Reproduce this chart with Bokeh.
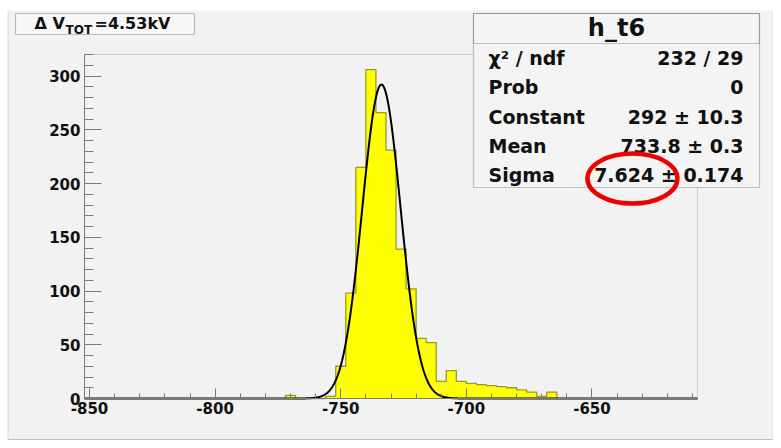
import numpy as np
from bokeh.plotting import figure
from bokeh.models import (Range1d, SingleIntervalTicker, BoxAnnotation, Label,
                          CustomJSTickFormatter)
from bokeh.embed import file_html
from bokeh.resources import INLINE

# ---------------- data ----------------
bin_width = 4
bin_lefts = [-772, -768, -764, -760, -756, -752, -748, -744, -740, -736,
             -732, -728, -724, -720, -716, -712, -708, -704, -700, -696,
             -692, -688, -684, -680, -676, -672, -668]
counts = [3, 0, 0, 0, 2, 30, 98, 215, 306, 266,
          231, 139, 102, 56, 52, 16, 26, 16, 14, 13,
          12, 11, 10, 8, 6, 2, 6]
x_start, x_end = -852, -608
y_start, y_end = 0, 320
tick_interval = 50

fit_constant = 292.0
fit_mean = -733.8
fit_sigma = 7.624

hist_name = "h_t6"
title_parts = ["Δ V", "TOT", "=4.53kV"]
stat_names = ["χ² / ndf", "Prob", "Constant", "Mean", "Sigma"]
stat_values = ["232 / 29", "0", "292 ± 10.3", "733.8 ± 0.3", "7.624 ± 0.174"]

# ---------------- layout (pixels) ----------------
W, H = 766, 430                 # canvas (page offset 7, 10)
OX, OY = 7, 10
PAD_L, PAD_R, PAD_T, PAD_B = 77, 76, 44, 42   # histogram frame inside canvas
BG = "#f2f2f2"
FONT = "DejaVu Sans"
AXC = "#7a7a7a"

kx = (x_end - x_start) / (W - PAD_L - PAD_R)
ky = (y_end - y_start) / (H - PAD_T - PAD_B)
vx0, vx1 = x_start - PAD_L * kx, x_end + PAD_R * kx
vy0, vy1 = y_start - PAD_B * ky, y_end + PAD_T * ky

p = figure(width=W, height=H,
           x_range=Range1d(vx0, vx1), y_range=Range1d(vy0, vy1),
           output_backend="svg", toolbar_location=None,
           min_border=0, min_border_left=0, min_border_right=0,
           min_border_top=0, min_border_bottom=0,
           background_fill_color=BG, border_fill_color=BG)
p.margin = (OY, 781 - W - OX, 448 - H - OY, OX)
p.title.visible = False
p.grid.visible = False
p.outline_line_color = None

fmt = CustomJSTickFormatter(code="return tick.toFixed(0)")
p.xaxis.fixed_location = y_start
p.xaxis.bounds = (x_start, x_end)
p.yaxis.fixed_location = x_start
p.yaxis.bounds = (y_start, y_end)
for ax, tin, tmin in ((p.xaxis[0], 10, 5), (p.yaxis[0], 17, 9)):
    ax.ticker = SingleIntervalTicker(interval=tick_interval, num_minor_ticks=5)
    ax.formatter = fmt
    ax.major_tick_in = tin
    ax.major_tick_out = 0
    ax.minor_tick_in = tmin
    ax.minor_tick_out = 0
    ax.axis_line_color = AXC
    ax.major_tick_line_color = AXC
    ax.minor_tick_line_color = AXC
    ax.major_label_text_font = FONT
    ax.major_label_text_font_style = "bold"
    ax.major_label_text_font_size = "15px"
    ax.major_label_text_color = "#111111"
p.xaxis.major_label_standoff = 3
p.yaxis.major_label_standoff = 4

# frame box of the histogram
p.add_layout(BoxAnnotation(left=x_start, right=x_end, bottom=y_start, top=y_end,
                           fill_alpha=0, line_color=AXC, line_width=1,
                           level="underlay"))

# ---------------- histogram ----------------
lefts = np.array(bin_lefts, dtype=float)
rights = lefts + bin_width
tops = np.array(counts, dtype=float)
p.quad(left=lefts, right=rights, bottom=0, top=tops,
       fill_color="#ffff00", line_color=None)

ox, oy = [lefts[0]], [0.0]
for l, r, c in zip(lefts, rights, tops):
    ox += [l, r]
    oy += [c, c]
ox.append(rights[-1]); oy.append(0.0)
p.line(ox, oy, line_color="#9a9a28", line_width=1.3)

# ---------------- gaussian fit ----------------
fx = np.linspace(x_start, x_end, 1200)
fy = fit_constant * np.exp(-0.5 * ((fx - fit_mean) / fit_sigma) ** 2)
p.line(fx, fy, line_color="#000000", line_width=2)

# ---------------- annotations (screen units, canvas = frame) ----------------
def sx(X):
    return X - OX

def sy(Y):
    return (OY + H) - Y

def sbox(X0, X1, Y0, Y1, **kw):
    return BoxAnnotation(left=sx(X0), right=sx(X1), top=sy(Y0), bottom=sy(Y1),
                         left_units="screen", right_units="screen",
                         top_units="screen", bottom_units="screen", **kw)

def slabel(X, Y, text, size, align="left"):
    return Label(x=sx(X), y=sy(Y), x_units="screen", y_units="screen",
                 text=text, text_font=FONT, text_font_style="bold",
                 text_font_size=size, text_color="#111111",
                 text_baseline="middle", text_align=align)

# canvas edges
p.add_layout(sbox(7, 773, 438.5, 440, fill_color="#bdbdbd", fill_alpha=1, line_color=None))
p.add_layout(sbox(7, 8, 10, 440, fill_color="#d6d6d6", fill_alpha=1, line_color=None))
p.add_layout(sbox(772, 773, 10, 440, fill_color="#dcdcdc", fill_alpha=1, line_color=None))

# title box
p.add_layout(sbox(15, 194, 13, 34, fill_color="#f7f7f7", fill_alpha=1,
                  line_color="#333333", line_width=1.2))
p.add_layout(slabel(34, 22.5, title_parts[0], "16px"))
p.add_layout(slabel(65, 29.5, title_parts[1], "12px"))
p.add_layout(slabel(94, 22.5, title_parts[2], "16px"))

# stats box
p.add_layout(sbox(473, 759, 13, 187, fill_color="#f4f4f4", fill_alpha=1,
                  line_color="#444444", line_width=1.2))
p.add_layout(sbox(473, 759, 13, 43, fill_alpha=0,
                  line_color="#444444", line_width=1.2))
p.add_layout(slabel(616, 27.5, hist_name, "24px", "center"))
row_y = [57, 86.5, 116, 145, 174]
for name, val, yy in zip(stat_names, stat_values, row_y):
    p.add_layout(slabel(488, yy, name, "19px"))
    p.add_layout(slabel(743, yy, val, "19px", "right"))

# red highlight ellipse (around the Sigma value)
highlight_x, highlight_y = -633.9, 204.6
p.ellipse(x=[highlight_x], y=[highlight_y], width=90, height=50,
          width_units="screen", height_units="screen",
          fill_color=None, line_color="#ee0000", line_width=4.5, level="overlay")

open("out.html", "w").write(file_html(p, INLINE))
